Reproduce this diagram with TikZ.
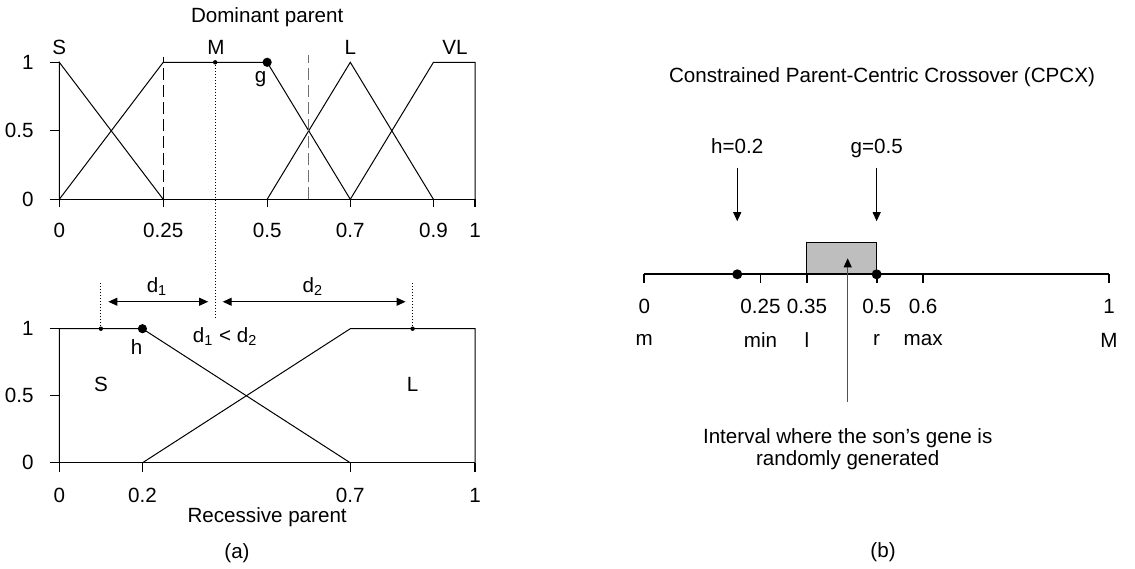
\documentclass[tikz,border=0pt]{standalone}
\usepackage{fontspec}
\setmainfont{Liberation Sans}
\usetikzlibrary{arrows.meta,positioning,calc}
\definecolor{boxgray}{HTML}{BEBEBE}
\definecolor{dashgray}{HTML}{707070}
\definecolor{pointer}{HTML}{505050}

\begin{document}
\begin{tikzpicture}[x=0.5pt,y=-0.5pt,font=\fontsize{10.3}{12}\selectfont,line width=0.5pt]
        \tikzstyle{lbl}=[inner sep=0pt]
        \tikzstyle{sdot}=[circle,fill,inner sep=0pt,minimum size=2.2pt]
        \tikzstyle{bdot}=[circle,fill,inner sep=0pt,minimum size=4.6pt]
        \tikzstyle{arr}=[-{Triangle[length=4.5pt,width=4pt]}]
        \tikzstyle{dblarr}=[{Triangle[length=4.5pt,width=4pt]}-{Triangle[length=4.5pt,width=4pt]}]
        \tikzstyle{fine}=[dash pattern=on 0.5pt off 1pt]
        \tikzstyle{longdash}=[dash pattern=on 6pt off 2.5pt]
        \useasboundingbox (0,0) rectangle (1135,568);
        % (a) dominant parent
        \begin{scope}[shift={(59.3,199.3)},x=207.85pt,y=68.5pt]
          \draw[line width=0.65pt] (0,0) -- (1,0);
          \foreach \y in {0,0.5,1}
            \draw[line width=0.65pt] (0,\y) -- (-0.0217,\y) node[lbl,left=8pt] {\y};
          \foreach \x in {0,0.25,0.5,0.7,0.9,1} {
            \draw[line width=0.65pt] (\x,0) -- (\x,-0.058);
            \node[lbl] at (\x,-0.225) {\x};
          }
          \draw (0,0) -- (0,1) -- (0.25,0);
          \draw (0,0) -- (0.25,1) -- (0.5,1) -- (0.7,0);
          \draw (0.5,0) -- (0.7,1) -- (0.9,0);
          \draw (0.7,0) -- (0.9,1) -- (1,1) -- (1,0);
          \draw[longdash] (0.25,0) -- (0.25,1.04);
          \draw[longdash,dashgray] (0.6,0) -- (0.6,1.05);
          \node[lbl] (ds)  at (0,1.112)     {S};
          \node[lbl] (dm)  at (0.377,1.112) {M};
          \node[lbl] (dl)  at (0.7,1.112)   {L};
          \node[lbl] (dvl) at (0.952,1.112) {VL};
          \node[lbl] (dtitle) at (0.5,1.33) {Dominant parent};
          \node[sdot] (mtop) at (0.375,1) {};
          \node[bdot] (g) at (0.5,1) {};
          \node[lbl] (glab) at (0.484,0.875) {g};
        \end{scope}
        % (a) recessive parent
        \begin{scope}[shift={(59.3,462.8)},x=207.85pt,y=67.05pt]
          \draw[line width=0.65pt] (0,0) -- (1,0);
          \foreach \y in {0,0.5,1}
            \draw[line width=0.65pt] (0,\y) -- (-0.0217,\y) node[lbl,left=8pt] {\y};
          \foreach \x in {0,0.2,0.7,1} {
            \draw[line width=0.65pt] (\x,0) -- (\x,-0.067);
            \node[lbl] at (\x,-0.24) {\x};
          }
          \draw (0,0) -- (0,1) -- (0.2,1) -- (0.7,0);
          \draw (0.2,0) -- (0.7,1) -- (1,1) -- (1,0);
          \node[sdot] (sl) at (0.1,1) {};
          \node[sdot] (ll) at (0.85,1) {};
          \node[bdot] (h) at (0.2,1) {};
          \coordinate (mbot) at (0.375,1.072);
          \coordinate (slup) at (0.1,1.35);
          \coordinate (llup) at (0.85,1.35);
          \draw[fine] (sl) -- (slup);
          \draw[fine] (ll) -- (llup);
          \coordinate (d1a) at (0.118,1.201);
          \coordinate (d1b) at (0.358,1.201);
          \coordinate (d2a) at (0.393,1.201);
          \coordinate (d2b) at (0.833,1.201);
          \draw[dblarr] (d1a) -- (d1b);
          \draw[dblarr] (d2a) -- (d2b);
          \node[lbl] (d1lab) at (0.235,1.313) {d\textsubscript{1}};
          \node[lbl] (d2lab) at (0.610,1.313) {d\textsubscript{2}};
          \node[lbl] (cmp) at (0.399,0.94) {d\textsubscript{1} < d\textsubscript{2}};
          \node[lbl] (hlab) at (0.186,0.864) {h};
          \node[lbl] (rs) at (0.1,0.588) {S};
          \node[lbl] (rl) at (0.85,0.588) {L};
          \node[lbl] (rtitle) at (0.5,-0.404) {Recessive parent};
          \node[lbl] (capa) at (0.4275,-0.673) {(a)};
        \end{scope}
        \draw[fine] (mtop) -- (mbot);
        % (b) CPCX
        \begin{scope}[shift={(644.3,274.3)},x=232.35pt,y=0.5pt]
          \draw[fill=boxgray] (0.35,0) rectangle (0.5,32);
          \draw[line width=0.85pt] (0,0) -- (1,0);
          \foreach \x/\t/\n in {0/0/m,0.25/0.25/min,0.35/0.35/l,0.5/0.5/r,0.6/0.6/max,1/1/M} {
            \draw[line width=0.85pt] (\x,0) -- (\x,-9);
            \node[lbl] at (\x,-32.4) {\t};
            \node[lbl] at (\x,-65.7) {\n};
          }
          \node[bdot,minimum size=5pt] (hd) at (0.2,0) {};
          \node[bdot,minimum size=5pt] (gd) at (0.5,0) {};
          \node[lbl,anchor=base] (hval) at (0.2,121) {h=0.2};
          \node[lbl,anchor=base] (gval) at (0.5,121) {g=0.5};
          \draw[arr,shorten <=7.2pt,shorten >=23.8pt] (hval.base) -- (hd);
          \draw[arr,shorten <=7.2pt,shorten >=23.8pt] (gval.base) -- (gd);
          \node[lbl] (btitle) at (0.5115,197.3) {Constrained Parent-Centric Crossover (CPCX)};
          \coordinate (tip) at (0.4377,16);
          \node[lbl,align=center,font=\fontsize{10.3}{11}\selectfont] (note) at (0.4377,-174.7)
            {Interval where the son’s gene is\\randomly generated};
          \draw[pointer,-{Triangle[length=4.5pt,width=4pt,color=black]},shorten <=13pt] (note.north -| tip) -- (tip);
          \node[lbl] (capb) at (0.5137,-277.7) {(b)};
        \end{scope}
      \end{tikzpicture}
\end{document}
